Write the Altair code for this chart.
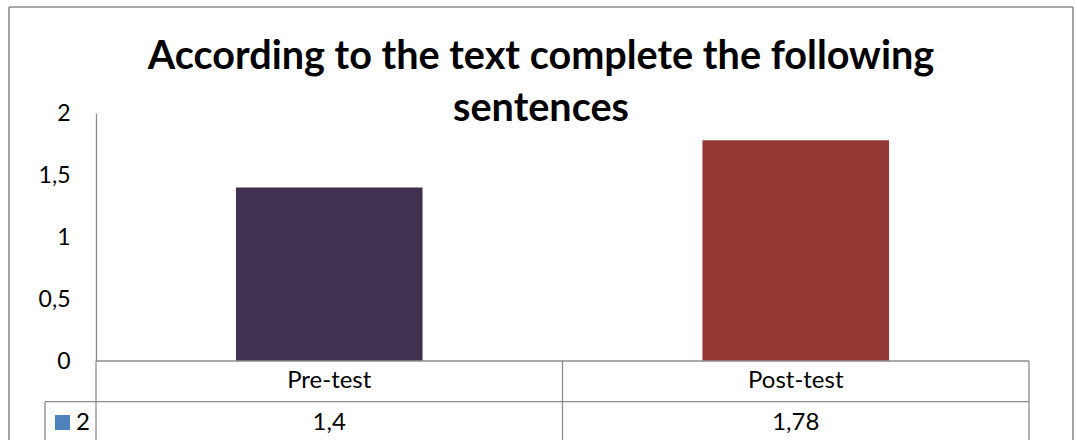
import altair as alt
import pandas as pd

# ---- data ----
categories = ["Pre-test", "Post-test"]
values = [1.4, 1.78]
bar_colors = ["#403151", "#953735"]
series_name = "2"
title_lines = ["According to the text complete the following", "sentences"]
y_ticks = [0, 0.5, 1, 1.5, 2]

df = pd.DataFrame({"cat": categories, "value": values, "color": bar_colors})

W, H = 933, 248
FONT = "Lato"
GRID = "#8c8c8c"

x_scale = alt.Scale(domain=categories, paddingInner=0, paddingOuter=0)
y_scale = alt.Scale(domain=[0, 2], nice=False)

base = alt.Chart(df)

bars = base.mark_bar(width=alt.RelativeBandSize(0.4)).encode(
    x=alt.X("cat:N", scale=x_scale, axis=None, sort=categories),
    y=alt.Y(
        "value:Q",
        scale=y_scale,
        axis=alt.Axis(
            values=y_ticks,
            title=None,
            grid=False,
            ticks=False,
            domainColor=GRID,
            domainWidth=1.3,
            labelFont=FONT,
            labelFontSize=23,
            labelColor="#000000",
            labelPadding=26,
            labelExpr="replace(format(datum.value, '~g'), '.', ',')",
        ),
    ),
    color=alt.Color("color:N", scale=None),
)

# table category labels
cat_text = base.mark_text(font=FONT, fontSize=24, color="#000000", baseline="middle").encode(
    x=alt.X("cat:N", scale=x_scale, sort=categories),
    y=alt.value(268),
    text="cat:N",
)

# table values
val_text = base.transform_calculate(
    lab="replace(toString(datum.value), '.', ',')"
).mark_text(font=FONT, fontSize=24, color="#000000", baseline="middle").encode(
    x=alt.X("cat:N", scale=x_scale, sort=categories),
    y=alt.value(310),
    text="lab:N",
)

# vertical dividers at band starts
vdiv = base.mark_rule(color=GRID, strokeWidth=1.3).encode(
    x=alt.X("cat:N", scale=x_scale, sort=categories, bandPosition=0),
    y=alt.value(248),
    y2=alt.value(327),
)

one = pd.DataFrame({"k": [0]})
ob = alt.Chart(one)

def rule(x, x2, y, y2, width=1.3):
    return ob.mark_rule(color=GRID, strokeWidth=width).encode(
        x=alt.value(x), x2=alt.value(x2), y=alt.value(y), y2=alt.value(y2)
    )

lines = [
    rule(0, W, 248, 248),          # table top / baseline
    rule(-51, W, 288.7, 288.7),    # row divider
    rule(W, W, 248, 327),          # table right edge
    rule(-51, -51, 288.7, 327),    # legend column left edge
    rule(-87, -87, -106, 327, 1.6),   # frame left
    rule(-87, 977, -106, -106, 1.6),  # frame top
    rule(977, 977, -106, 327, 1.6),   # frame right
]

legend_key = ob.mark_square(size=225, color="#4F81BD", opacity=1).encode(
    x=alt.value(-33.5), y=alt.value(309.5)
)
legend_text = ob.mark_text(font=FONT, fontSize=24, align="left", baseline="middle", color="#000000").encode(
    x=alt.value(-20), y=alt.value(310), text=alt.value(series_name)
)

title1 = ob.mark_text(font=FONT, fontSize=39.6, fontWeight="bold", align="center", baseline="alphabetic", color="#000000").encode(
    x=alt.value(445), y=alt.value(-44), text=alt.value(title_lines[0])
)
title2 = ob.mark_text(font=FONT, fontSize=39.6, fontWeight="bold", align="center", baseline="alphabetic", color="#000000").encode(
    x=alt.value(445), y=alt.value(8), text=alt.value(title_lines[1])
)

chart = alt.layer(
    bars, *lines, vdiv, cat_text, val_text, legend_key, legend_text, title1, title2
).properties(
    width=W,
    height=H,
    background="#ffffff",
    autosize=alt.AutoSizeParams(type="none"),
    padding={"left": 96, "top": 113, "right": 48, "bottom": 79},
).configure_view(strokeWidth=0, stroke=None)

chart.save("out.html", embed_options={"renderer": "svg", "actions": False})
